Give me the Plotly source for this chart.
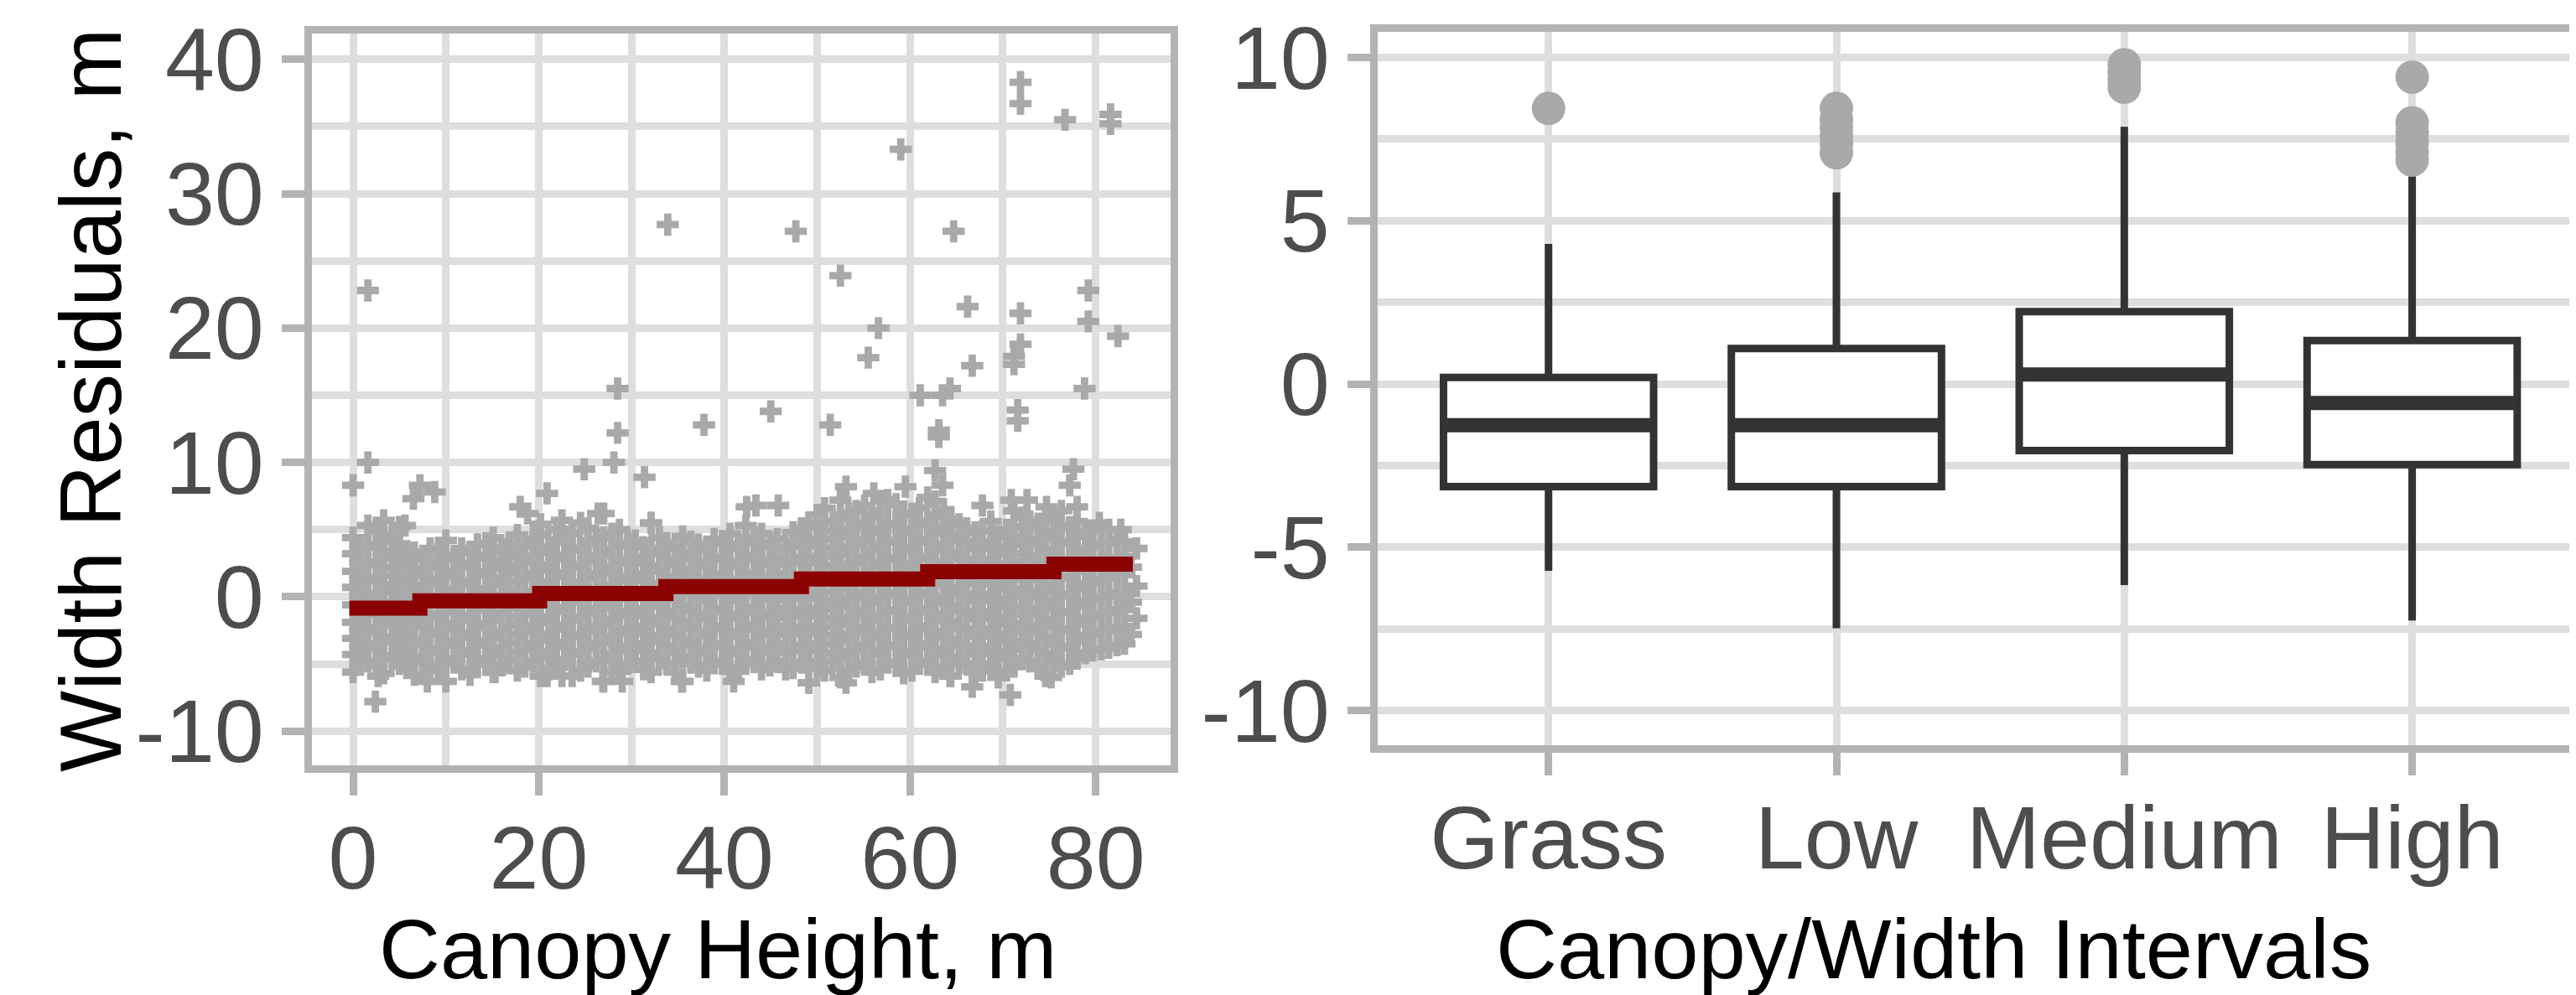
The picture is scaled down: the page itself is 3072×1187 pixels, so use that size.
import plotly.graph_objects as go

W, H = 3072, 1187
OFF = 8  # page body margin in the browser; layout pixels below are screen pixels minus OFF

# ---------------- Left panel: residuals vs canopy height ----------------
# dense cloud, read column by column (x = canopy height, y = residual values)
core_col_x = [0.0, 1.6, 3.3, 5.0, 6.6, 8.3, 10.0, 11.7, 13.4, 15.1, 16.8, 18.5, 20.2, 21.9,
              23.6, 25.3, 27.0, 28.7, 30.4, 32.1, 33.8, 35.5, 37.2, 38.9, 40.6, 42.3, 44.0,
              45.7, 47.4, 49.1, 50.8, 52.5, 54.2, 55.9, 57.6, 59.3, 61.0, 62.7, 64.4, 66.1,
              67.8, 69.5, 71.2, 72.9, 74.6, 76.3, 78.0, 79.7, 81.4, 83.1, 84.4]
core_col_y = [
    [-5.6, -4.3, -3.1, -1.9, -0.6, 0.7, 1.9, 3.2, 4.4],
    [-4.8, -3.5, -2.3, -1.1, 0.2, 1.4, 2.6, 3.9, 5.3],
    [-5.7, -4.4, -3.0, -1.7, -0.4, 0.9, 2.2, 3.4, 4.6, 5.7],
    [-5.0, -3.8, -2.5, -1.2, 0.1, 1.5, 2.8, 3.7, 5.2],
    [-5.8, -4.5, -3.2, -1.8, -0.5, 0.8, 2.0, 3.3],
    [-5.2, -3.9, -2.6, -1.3, 0.0, 1.3, 2.6, 3.6],
    [-6.3, -4.6, -3.3, -2.0, -0.7, 0.6, 1.9, 3.1, 4.2],
    [-5.4, -4.0, -2.7, -1.4, -0.1, 1.2, 2.5, 3.6],
    [-5.0, -3.6, -2.3, -1.0, 0.3, 1.6, 2.9, 3.9],
    [-5.6, -4.3, -3.0, -1.7, -0.4, 0.9, 2.2, 3.4, 4.4],
    [-4.7, -3.4, -2.1, -0.8, 0.5, 1.8, 3.0, 4.0],
    [-5.2, -3.9, -2.6, -1.3, 0.0, 1.3, 2.6, 3.8],
    [-5.9, -4.5, -3.2, -1.9, -0.6, 0.7, 2.0, 3.3, 4.6, 5.4],
    [-5.0, -3.7, -2.4, -1.1, 0.2, 1.5, 2.8, 4.1, 5.0],
    [-5.9, -4.3, -3.0, -1.7, -0.4, 0.9, 2.2, 3.5, 4.7],
    [-5.2, -3.8, -2.5, -1.2, 0.1, 1.4, 2.7, 4.0, 5.1],
    [-6.3, -4.7, -3.4, -2.1, -0.8, 0.5, 1.8, 3.1, 4.4, 6.2],
    [-5.3, -4.0, -2.7, -1.4, -0.1, 1.2, 2.5, 3.8, 5.0],
    [-4.8, -3.5, -2.2, -0.9, 0.4, 1.7, 3.0, 4.2],
    [-5.6, -4.2, -2.9, -1.6, -0.3, 1.0, 2.3, 3.6, 5.5],
    [-5.0, -3.7, -2.4, -1.1, 0.2, 1.5, 2.8, 4.0],
    [-6.3, -4.5, -3.2, -1.9, -0.6, 0.7, 2.0, 3.3, 4.5],
    [-5.2, -3.9, -2.6, -1.3, 0.0, 1.3, 2.6, 3.9],
    [-4.8, -3.5, -2.2, -0.9, 0.4, 1.7, 3.0, 4.3],
    [-5.5, -4.2, -2.9, -1.6, -0.3, 1.0, 2.3, 3.6, 4.7],
    [-5.0, -3.7, -2.4, -1.1, 0.2, 1.5, 2.8, 4.0, 5.3],
    [-5.4, -4.1, -2.8, -1.5, -0.2, 1.1, 2.4, 3.7, 4.7],
    [-4.8, -3.5, -2.2, -0.9, 0.4, 1.7, 3.0, 4.3],
    [-5.3, -4.0, -2.7, -1.4, -0.1, 1.2, 2.5, 3.8, 4.8],
    [-6.4, -4.8, -3.5, -2.2, -0.9, 0.4, 1.7, 3.0, 4.3, 5.5],
    [-5.5, -4.2, -2.9, -1.6, -0.3, 1.0, 2.3, 3.6, 4.9, 6.6],
    [-6.0, -4.6, -3.3, -2.0, -0.7, 0.6, 1.9, 3.2, 4.5, 5.8, 7.2],
    [-5.2, -3.9, -2.6, -1.3, 0.0, 1.3, 2.6, 3.9, 5.2, 6.4],
    [-5.6, -4.3, -3.0, -1.7, -0.4, 0.9, 2.2, 3.5, 4.8, 6.0],
    [-4.9, -3.6, -2.3, -1.0, 0.3, 1.6, 2.9, 4.2, 5.4, 7.2],
    [-5.7, -4.3, -3.0, -1.7, -0.4, 0.9, 2.2, 3.5, 4.8, 6.1],
    [-5.0, -3.7, -2.4, -1.1, 0.2, 1.5, 2.8, 4.1, 5.4, 6.6],
    [-5.6, -4.3, -3.0, -1.7, -0.4, 0.9, 2.2, 3.5, 4.8, 6.0, 7.1],
    [-5.9, -4.5, -3.2, -1.9, -0.6, 0.7, 2.0, 3.3, 4.6, 5.8],
    [-5.0, -3.7, -2.4, -1.1, 0.2, 1.5, 2.8, 4.1, 5.1],
    [-5.5, -4.2, -2.9, -1.6, -0.3, 1.0, 2.3, 3.6, 4.9, 6.8],
    [-6.0, -4.6, -3.3, -2.0, -0.7, 0.6, 1.9, 3.2, 4.5],
    [-5.2, -3.9, -2.6, -1.3, 0.0, 1.3, 2.6, 3.9, 5.2, 6.4],
    [-4.8, -3.5, -2.2, -0.9, 0.4, 1.7, 3.0, 4.3, 5.6],
    [-5.9, -4.3, -3.0, -1.7, -0.4, 0.9, 2.2, 3.5, 4.8, 6.0],
    [-5.2, -3.8, -2.5, -1.2, 0.1, 1.4, 2.7, 4.0, 5.3, 6.4],
    [-4.6, -3.3, -2.0, -0.7, 0.6, 1.9, 3.2, 4.5, 5.6],
    [-4.0, -2.8, -1.5, -0.2, 1.1, 2.4, 3.7, 4.9],
    [-3.8, -2.5, -1.2, 0.1, 1.4, 2.7, 4.0, 5.0],
    [-3.5, -2.2, -0.9, 0.4, 1.7, 3.0, 4.1],
    [-1.6, 0.8, 3.6],
]

# second, staggered set of columns filling the dense band
fill_col_x = [0.8, 2.5, 4.2, 5.8, 7.5, 9.2, 10.9, 12.6, 14.3, 16.0, 17.7, 19.4, 21.1, 22.8,
              24.5, 26.2, 27.9, 29.6, 31.3, 33.0, 34.7, 36.4, 38.1, 39.8, 41.5, 43.2, 44.9,
              46.6, 48.3, 50.0, 51.7, 53.4, 55.1, 56.8, 58.5, 60.2, 61.9, 63.6, 65.3, 67.0,
              68.7, 70.4, 72.1, 73.8, 75.5, 77.2, 78.9, 80.6, 82.3, 83.8]
fill_col_y = [
    [-4.9, -3.7, -2.5, -1.2, 0.0, 1.3, 2.6, 3.8],
    [-5.1, -3.8, -2.6, -1.3, -0.1, 1.2, 2.4, 3.7, 4.9],
    [-4.6, -3.3, -2.1, -0.9, 0.4, 1.6, 2.9, 4.1],
    [-5.3, -3.9, -2.7, -1.4, -0.2, 1.1, 2.3, 3.4],
    [-4.8, -3.5, -2.2, -1.0, 0.3, 1.6, 2.8],
    [-5.5, -4.1, -2.8, -1.5, -0.2, 1.0, 2.2, 3.3],
    [-4.9, -3.6, -2.4, -1.1, 0.2, 1.5, 2.8],
    [-5.8, -4.3, -3.0, -1.7, -0.4, 0.9, 2.2, 3.3],
    [-4.6, -3.3, -2.0, -0.7, 0.6, 1.9, 3.1, 4.0],
    [-5.1, -3.8, -2.6, -1.2, 0.1, 1.4, 2.6, 3.6],
    [-5.5, -4.1, -2.8, -1.5, -0.2, 1.1, 2.3, 3.4, 4.6],
    [-4.8, -3.5, -2.2, -0.9, 0.4, 1.7, 3.0, 4.3],
    [-5.4, -4.1, -2.8, -1.5, -0.2, 1.1, 2.4, 3.7],
    [-4.7, -3.4, -2.1, -0.8, 0.5, 1.8, 3.1, 4.5],
    [-5.5, -4.1, -2.8, -1.5, -0.2, 1.1, 2.4, 3.6, 5.5],
    [-4.8, -3.5, -2.2, -0.9, 0.4, 1.7, 3.0, 4.3],
    [-5.6, -4.3, -3.0, -1.7, -0.4, 0.9, 2.2, 3.5, 4.7],
    [-5.0, -3.7, -2.4, -1.1, 0.2, 1.5, 2.8, 4.0],
    [-5.4, -4.0, -2.7, -1.4, -0.1, 1.2, 2.5, 3.7],
    [-4.6, -3.3, -2.0, -0.7, 0.6, 1.9, 3.2, 4.4],
    [-5.6, -4.1, -2.8, -1.5, -0.2, 1.1, 2.4, 3.6],
    [-4.9, -3.6, -2.3, -1.0, 0.3, 1.6, 2.9, 4.1],
    [-5.5, -4.2, -2.9, -1.6, -0.3, 1.0, 2.3, 3.5],
    [-5.0, -3.7, -2.4, -1.1, 0.2, 1.5, 2.8, 4.0],
    [-5.3, -3.9, -2.6, -1.3, 0.0, 1.3, 2.6, 3.9],
    [-4.7, -3.4, -2.1, -0.8, 0.5, 1.8, 3.1, 4.4],
    [-5.1, -3.8, -2.5, -1.2, 0.1, 1.4, 2.7, 4.0],
    [-5.4, -4.1, -2.8, -1.5, -0.2, 1.1, 2.4, 3.6],
    [-4.9, -3.6, -2.3, -1.0, 0.3, 1.6, 2.9, 4.2, 5.1],
    [-5.3, -4.0, -2.7, -1.4, -0.1, 1.2, 2.5, 3.8, 5.2, 6.1],
    [-4.8, -3.5, -2.2, -0.9, 0.4, 1.7, 3.0, 4.3, 5.6],
    [-5.5, -4.1, -2.8, -1.5, -0.2, 1.1, 2.4, 3.7, 5.0, 6.2],
    [-4.9, -3.6, -2.3, -1.0, 0.3, 1.6, 2.9, 4.2, 5.5, 6.8],
    [-5.4, -4.0, -2.7, -1.4, -0.1, 1.2, 2.5, 3.8, 5.0, 6.4],
    [-5.0, -3.7, -2.4, -1.1, 0.2, 1.5, 2.8, 4.1, 5.5, 6.9],
    [-5.5, -4.1, -2.8, -1.5, -0.2, 1.1, 2.4, 3.7, 5.0, 6.2],
    [-4.8, -3.5, -2.2, -0.9, 0.4, 1.7, 3.0, 4.3, 5.6, 7.4],
    [-5.3, -3.9, -2.6, -1.3, 0.0, 1.3, 2.6, 3.9, 5.2, 6.5],
    [-4.9, -3.6, -2.3, -1.0, 0.3, 1.6, 2.9, 4.2, 5.4],
    [-5.6, -4.2, -2.9, -1.6, -0.3, 1.0, 2.3, 3.6, 4.8],
    [-5.0, -3.7, -2.4, -1.1, 0.2, 1.5, 2.8, 4.1, 5.6],
    [-5.5, -4.1, -2.8, -1.5, -0.2, 1.1, 2.4, 3.7, 5.0],
    [-4.6, -3.3, -2.0, -0.7, 0.6, 1.9, 3.2, 4.5, 5.9],
    [-5.3, -3.9, -2.6, -1.3, 0.0, 1.3, 2.6, 3.9, 5.2],
    [-4.8, -3.5, -2.2, -0.9, 0.4, 1.7, 3.0, 4.3, 5.7],
    [-5.0, -3.7, -2.4, -1.1, 0.2, 1.5, 2.8, 4.1, 5.2],
    [-4.2, -2.9, -1.6, -0.3, 1.0, 2.3, 3.6, 4.8],
    [-3.9, -2.6, -1.3, 0.0, 1.3, 2.6, 3.9],
    [-3.6, -2.3, -1.0, 0.3, 1.6, 2.9, 4.3],
    [-2.8, -0.4, 2.2],
]

# scattered points outside the dense cloud
sparse_x = [1.6, 1.6, 0.0, 7.2, 8.8, 6.5, 5.6, 20.9, 18.0, 18.8, 26.4, 22.5, 32.1, 42.4,
            43.4, 45.8, 53.1, 56.1, 59.5, 63.5, 70.9, 72.6, 74.7, 78.0, 80.4, 82.7,
            28.5, 28.5, 28.1, 24.9, 31.4, 37.8, 33.9, 45.0, 47.7, 51.4, 52.5, 56.6, 55.5,
            59.0, 64.7, 66.2, 66.7, 64.3, 61.1, 63.5, 63.1, 63.1, 62.7, 71.9, 71.9, 76.7,
            81.6, 81.6, 71.9, 71.9, 71.2, 71.2, 71.6, 71.6, 79.2, 79.2, 82.4, 78.8, 77.6,
            77.2, 2.4, 8.0, 15.3, 20.9, 22.5, 26.9, 29.0, 35.4, 41.0, 2.7, 66.7, 70.8,
            53.1, 49.1, 75.2, 64.3]
sparse_y = [22.8, 10.0, 8.3, 8.3, 7.8, 7.3, 5.3, 7.7, 6.7, 6.2, 6.2, 5.7, 5.5, 6.7,
            6.8, 6.8, 8.2, 7.7, 8.2, 8.3, 7.2, 7.2, 6.7, 6.7, 5.5, 5.0,
            15.5, 12.2, 10.0, 9.5, 8.9, 12.8, 27.7, 13.8, 27.2, 12.8, 23.9, 20.0, 17.8,
            33.3, 27.2, 21.6, 17.2, 15.5, 15.0, 15.0, 12.4, 11.9, 9.4, 38.3, 36.7, 35.5,
            35.9, 35.2, 21.1, 18.8, 17.9, 17.3, 13.9, 13.1, 22.8, 20.5, 19.4, 15.5, 9.5,
            8.3, -7.8, -6.3, -5.6, -5.9, -5.9, -6.3, -6.3, -6.3, -6.3, -5.9, -6.7, -7.3,
            -6.4, -6.4, -6.0, -5.9]

# fitted step line
step_x = [-0.4, 7.2, 20.1, 33.7, 48.3, 61.9, 75.5, 84.0]
step_y = [-0.85, -0.29, 0.25, 0.77, 1.33, 1.87, 2.43]

left_xticks = [0, 20, 40, 60, 80]
left_yticks = [-10, 0, 10, 20, 30, 40]

# ---------------- Right panel: boxplots ----------------
categories = ["Grass", "Low", "Medium", "High"]
box_q1 = [-3.14, -3.14, -2.04, -2.47]
box_median = [-1.26, -1.26, 0.29, -0.58]
box_q3 = [0.20, 1.09, 2.22, 1.33]
box_lower = [-5.72, -7.48, -6.16, -7.24]
box_upper = [4.29, 5.87, 7.88, 6.98]
outliers = {
    "Grass": [8.44],
    "Low": [7.08, 7.35, 7.6, 7.85, 8.1, 8.44],
    "Medium": [9.09, 9.3, 9.55, 9.78],
    "High": [6.86, 7.1, 7.4, 7.7, 8.0, 9.4],
}
right_yticks = [-10, -5, 0, 5, 10]

# ---------------- styling ----------------
FONT = "Liberation Sans"
BORDER = "#B3B3B3"
GRID = "#DEDEDE"
PT = "#A9A9A9"
LW = 9
TICKFONT = dict(family=FONT, size=106, color="#4D4D4D")
TITLEFONT = dict(family=FONT, size=101, color="black")
YTITLEFONT = dict(family=FONT, size=103, color="black")

fig = go.Figure()

xs, ys = [], []
for cols_x, cols_y in ((core_col_x, core_col_y), (fill_col_x, fill_col_y)):
    for cx, cys in zip(cols_x, cols_y):
        for v in cys:
            xs.append(cx)
            ys.append(v)
xs += sparse_x
ys += sparse_y
fig.add_trace(go.Scatter(x=xs, y=ys, mode="markers", xaxis="x", yaxis="y",
                         marker=dict(symbol="cross", size=22, color=PT, line=dict(width=0)),
                         showlegend=False, hoverinfo="skip"))
fig.add_trace(go.Scatter(x=step_x, y=step_y + [step_y[-1]], mode="lines", xaxis="x", yaxis="y",
                         line=dict(color="#8B0000", width=18, shape="hv"), showlegend=False))

pos = list(range(1, len(categories) + 1))
ox, oy = [], []
for p, c in zip(pos, categories):
    for v in outliers[c]:
        ox.append(p)
        oy.append(v)
fig.add_trace(go.Scatter(x=ox, y=oy, mode="markers", xaxis="x2", yaxis="y2",
                         marker=dict(symbol="circle", size=40, color=PT, line=dict(width=0)),
                         showlegend=False))
BW = 0.73
fig.add_trace(go.Box(x=pos, q1=box_q1, median=box_median, q3=box_q3,
                     lowerfence=box_lower, upperfence=box_upper, width=BW, whiskerwidth=0,
                     fillcolor="white", line=dict(color="#333333", width=LW),
                     xaxis="x2", yaxis="y2", showlegend=False))
mx, my = [], []
for p, m in zip(pos, box_median):
    mx += [p - BW / 2, p + BW / 2, None]
    my += [m, m, None]
fig.add_trace(go.Scatter(x=mx, y=my, mode="lines", xaxis="x2", yaxis="y2",
                         line=dict(color="#333333", width=17), showlegend=False))


def axis_common(letter):
    d = dict(showline=True, linecolor=BORDER, linewidth=LW, ticks="outside",
             ticklen=27, tickwidth=LW, tickcolor=BORDER, showgrid=True,
             gridcolor=GRID, gridwidth=LW, zeroline=False, tickfont=TICKFONT,
             automargin=False)
    if letter == "x":
        d["ticklabelstandoff"] = -16
    return d


def px_x(v):
    return (v - OFF) / W


def px_y(v):
    return 1 - (v - OFF) / H


fig.update_layout(
    width=W, height=H, margin=dict(l=0, r=0, t=0, b=0, autoexpand=False),
    paper_bgcolor="white", plot_bgcolor="white",
    xaxis=dict(domain=[px_x(372), px_x(1396)], range=[-4.43, 88.07], anchor="y",
               tickvals=left_xticks, ticktext=[str(v) for v in left_xticks], mirror=True,
               minor=dict(tickvals=[10, 30, 50, 70], showgrid=True, gridcolor=GRID,
                          gridwidth=LW, ticks=""),
               **axis_common("x")),
    yaxis=dict(domain=[px_y(913), px_y(40)], range=[-12.54, 41.92], anchor="x",
               tickvals=left_yticks, ticktext=[str(v) for v in left_yticks], mirror=True,
               minor=dict(tickvals=[-5, 5, 15, 25, 35], showgrid=True, gridcolor=GRID,
                          gridwidth=LW, ticks=""),
               **axis_common("y")),
    xaxis2=dict(domain=[px_x(1643), 1.0], range=[0.4066, 4.5925], anchor="y2",
                tickvals=pos, ticktext=categories, mirror=True, **axis_common("x")),
    yaxis2=dict(domain=[px_y(889), px_y(38)], range=[-11.06, 10.785], anchor="x2",
                tickvals=right_yticks, ticktext=[str(v) for v in right_yticks], mirror=False,
                minor=dict(tickvals=[-7.5, -2.5, 2.5, 7.5], showgrid=True, gridcolor=GRID,
                           gridwidth=LW, ticks=""),
                **axis_common("y")),
    annotations=[
        dict(text="Width Residuals, m", textangle=-90, x=px_x(108), y=px_y(478),
             xref="paper", yref="paper", xanchor="center", yanchor="middle",
             showarrow=False, font=YTITLEFONT),
        dict(text="Canopy Height, m", x=px_x(856), y=px_y(1132), xref="paper", yref="paper",
             xanchor="center", yanchor="middle", showarrow=False, font=TITLEFONT),
        dict(text="Canopy/Width Intervals", x=px_x(2306), y=px_y(1132), xref="paper",
             yref="paper", xanchor="center", yanchor="middle", showarrow=False,
             font=TITLEFONT),
    ],
)

fig.write_html("out.html")
